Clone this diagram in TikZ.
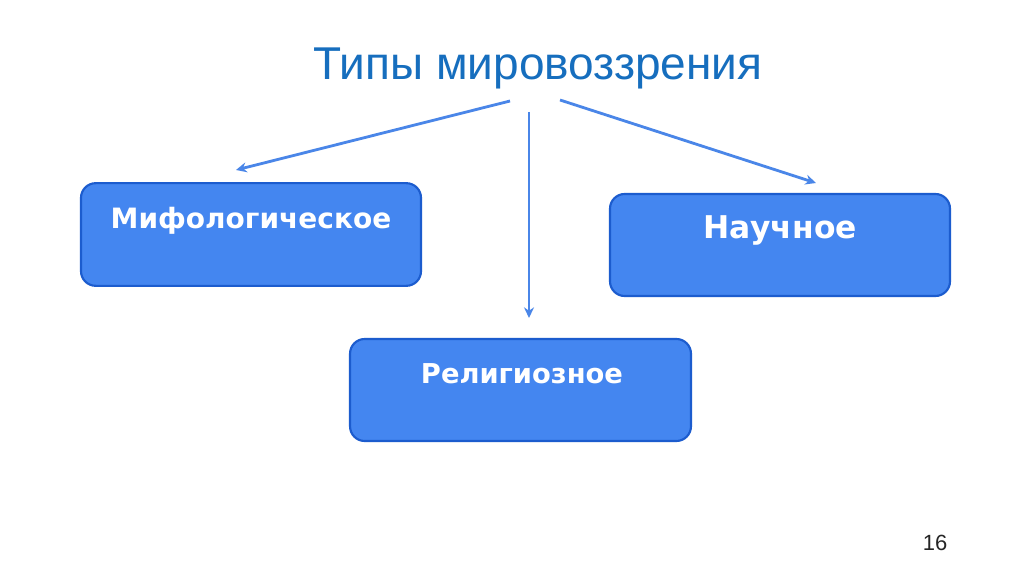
\documentclass[tikz,border=0pt]{standalone}
\usepackage{fontspec}
\setmainfont{Liberation Sans}
\newfontfamily\boxfont{DejaVu Sans}
\usetikzlibrary{arrows.meta}
\definecolor{titleblue}{RGB}{22,110,190}
\definecolor{boxfill}{RGB}{68,134,240}
\definecolor{boxedge}{RGB}{28,92,206}
\definecolor{arrowblue}{RGB}{74,134,232}
\begin{document}
\begin{tikzpicture}[x=0.75pt,y=-0.75pt,
  typebox/.style={draw=boxedge, line width=1.6pt, fill=boxfill, rounded corners=11pt, inner sep=0pt},
  boxtext/.style={text=white, font=\boxfont\bfseries, anchor=base, inner sep=0pt},
  link/.style={draw=arrowblue, line width=2.1pt, -{Stealth[length=8pt,width=7.5pt]}}]
\useasboundingbox (0,0) rectangle (1024,574);
\fill[white] (0,0) rectangle (1024,574);
% title
\node[text=titleblue, font=\fontsize{34.5}{40}\selectfont, anchor=base, inner sep=0pt] (title) at (538,80) {Типы мировоззрения};
% boxes
\node[typebox, minimum width=255pt, minimum height=77pt] (myth) at (251,234.5) {};
\node[typebox, minimum width=255pt, minimum height=76.5pt] (sci) at (780,245) {};
\node[typebox, minimum width=255.7pt, minimum height=76.5pt] (rel) at (520.5,390) {};
\node[boxtext, font=\boxfont\bfseries\fontsize{21}{24}\selectfont] (mytht) at (251,228) {Мифологическое};
\node[boxtext, font=\boxfont\bfseries\fontsize{23.5}{28}\selectfont] (scit) at (780,238) {Научное};
\node[boxtext, font=\boxfont\bfseries\fontsize{20.5}{24}\selectfont] (relt) at (522,383) {Религиозное};
% arrow anchors
\coordinate (s1) at (510,101);
\coordinate (e1) at (236,170);
\coordinate (s2) at (529,112);
\coordinate (e2) at (529,318);
\coordinate (s3) at (560,100);
\coordinate (e3) at (816,183);
\draw[link] (s1) -- (e1);
\draw[link] (s2) -- (e2);
\draw[link] (s3) -- (e3);
% page number
\node[text=black!85, font=\fontsize{16.5}{18}\selectfont, anchor=base, inner sep=0pt] (page) at (935,550) {16};
\end{tikzpicture}
\end{document}
